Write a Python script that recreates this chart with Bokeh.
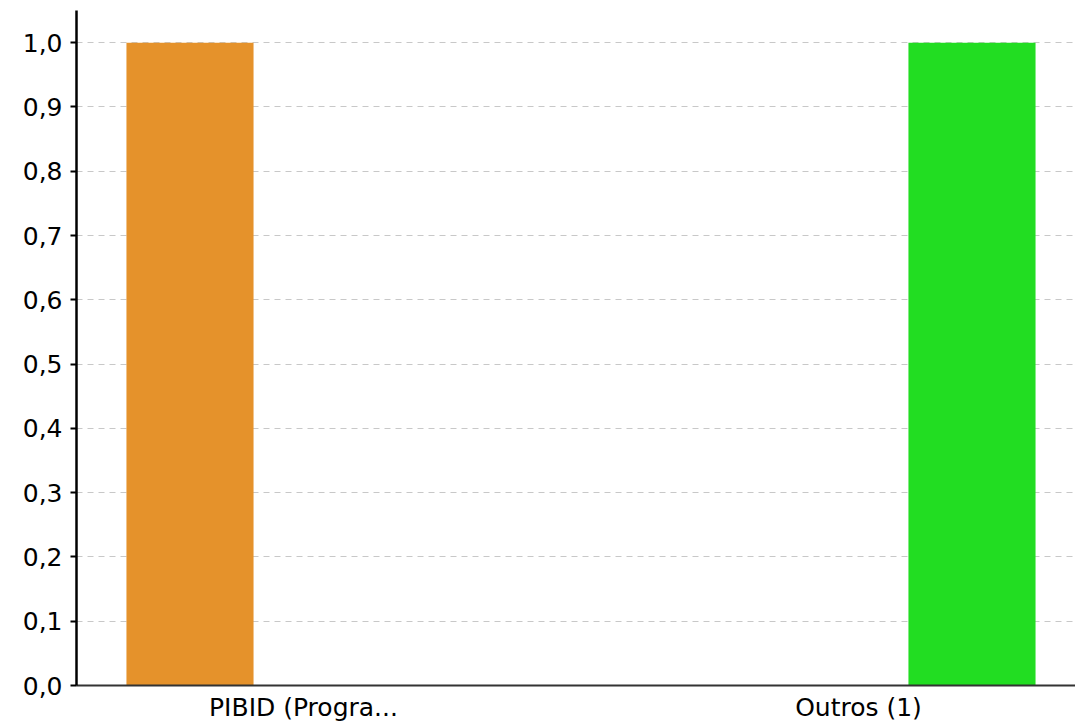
from bokeh.plotting import figure
from bokeh.models import ColumnDataSource, FixedTicker, CustomJSTickFormatter, Range1d
from bokeh.embed import file_html
from bokeh.resources import INLINE

# Data
categories = ["PIBID (Progra...", "Outros (1)"]
values = [1.0, 1.0]
colors = ["#E5922B", "#22DD22"]
y_ticks = [0.0, 0.1, 0.2, 0.3, 0.4, 0.5, 0.6, 0.7, 0.8, 0.9, 1.0]

# Layout (category slots and bar offset within slot)
cat_pos = list(range(len(categories)))
bar_offset = [-0.2045, 0.2045]
bar_width = 0.229

src = ColumnDataSource(dict(
    x=[c + o for c, o in zip(cat_pos, bar_offset)],
    top=values,
    color=colors,
))

p = figure(width=1075, height=724, output_backend="svg", toolbar_location=None,
           x_range=Range1d(-0.409, 1.391), y_range=Range1d(0, 1.05),
           min_border_left=76, min_border_right=0, min_border_top=10, min_border_bottom=39)
p.outline_line_color = None
p.background_fill_color = "white"

p.vbar(x="x", top="top", width=bar_width, bottom=0, fill_color="color", line_color=None, source=src)

font = "DejaVu Sans"
fs = "25px"

# y axis
p.yaxis.ticker = FixedTicker(ticks=y_ticks)
p.yaxis.formatter = CustomJSTickFormatter(code="return tick.toFixed(1).replace('.', ',');")
p.yaxis.major_label_text_font = font
p.yaxis.major_label_text_font_size = fs
p.yaxis.major_label_text_color = "black"
p.yaxis.axis_line_color = "black"
p.yaxis.axis_line_width = 2.5
p.yaxis.major_tick_line_color = "black"
p.yaxis.major_tick_line_width = 2
p.yaxis.major_tick_out = 6
p.yaxis.major_tick_in = 0
p.yaxis.minor_tick_line_color = None
p.yaxis.major_label_standoff = 8

# x axis
p.xaxis.ticker = FixedTicker(ticks=cat_pos)
p.xaxis.major_label_overrides = {i: c for i, c in zip(cat_pos, categories)}
p.xaxis.major_label_text_font = font
p.xaxis.major_label_text_font_size = fs
p.xaxis.major_label_text_color = "black"
p.xaxis.axis_line_color = "#333333"
p.xaxis.axis_line_width = 2
p.xaxis.major_tick_line_color = None
p.xaxis.major_tick_out = 0
p.xaxis.major_tick_in = 0
p.xaxis.minor_tick_line_color = None
p.xaxis.minor_tick_out = 0
p.xaxis.major_label_standoff = 7

# grid
p.xgrid.grid_line_color = None
p.ygrid.ticker = FixedTicker(ticks=y_ticks)
p.ygrid.grid_line_color = "#c8c8c8"
p.ygrid.grid_line_dash = "6 5"
p.ygrid.grid_line_width = 1

open("out.html", "w").write(file_html(p, INLINE))
